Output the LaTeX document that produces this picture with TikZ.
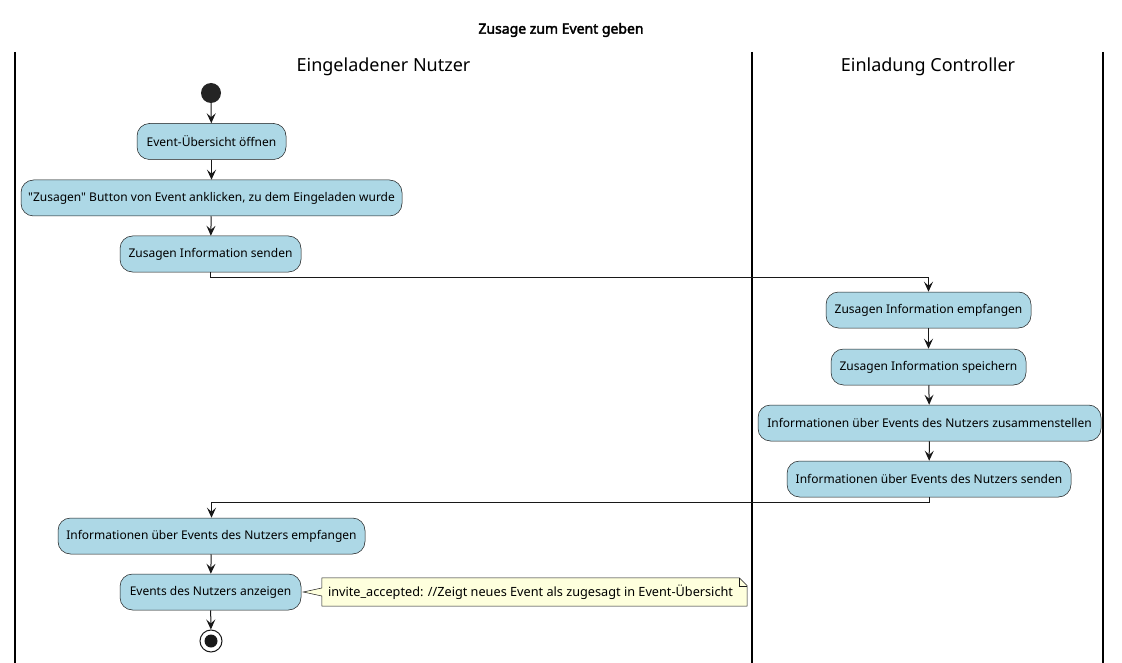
\documentclass[tikz,border=0pt]{standalone}
\usepackage{fontspec}
\setmainfont{Noto Sans}[Ligatures=TeXOff, BoldFont={Noto Sans}, BoldFeatures={FakeBold=2.5}]
\usetikzlibrary{arrows.meta}
\definecolor{actblue}{HTML}{ADD8E6}
\definecolor{notefill}{HTML}{FEFFDD}
\definecolor{dark}{HTML}{181818}
\tikzset{
  act/.style={draw=dark, line width=0.5pt, fill=actblue, rounded corners=12.5pt,
    minimum height=36pt, inner sep=0pt, font=\fontsize{12}{14}\selectfont},
  arr/.style={draw=dark, line width=1pt, -{Stealth[length=10pt,width=9pt,inset=4pt]}},
  lane/.style={line width=1.5pt, black},
  lanehead/.style={font=\fontsize{18}{22}\selectfont},
  notebody/.style={draw=dark, line width=0.5pt, fill=notefill}
}
\begin{document}
\begin{tikzpicture}[x=1pt,y=-1pt]
\path[use as bounding box, fill=white] (0,0) rectangle (1122,663);
% title
\node[font=\fontsize{14}{16}\selectfont\bfseries] (title) at (561,30) {Zusage zum Event geben};
% swimlanes
\draw[lane] (15,52) -- (15,663);
\draw[lane] (752,52) -- (752,663);
\draw[lane] (1103,52) -- (1103,663);
\node[lanehead] (h1) at (383.5,67) {Eingeladener Nutzer};
\node[lanehead] (h2) at (928,67) {Einladung Controller};
% start
\node[circle, fill=dark!95, minimum size=20pt, inner sep=0pt] (start) at (211,93) {};
% activities
\node[act, minimum width=149pt] (b1) at (211.5,141.5) {Event-Übersicht öffnen};
\node[act, minimum width=381pt] (b2) at (211.5,198) {"Zusagen" Button von Event anklicken, zu dem Eingeladen wurde};
\node[act, minimum width=181pt] (b3) at (210.5,254) {Zusagen Information senden};
\node[act, minimum width=205pt] (b4) at (928.5,310) {Zusagen Information empfangen};
\node[act, minimum width=195pt] (b5) at (928.5,367) {Zusagen Information speichern};
\node[act, minimum width=343pt] (b6) at (929.5,423) {Informationen über Events des Nutzers zusammenstellen};
\node[act, minimum width=284pt] (b7) at (929,479) {Informationen über Events des Nutzers senden};
\node[act, minimum width=307pt] (b8) at (211.5,536) {Informationen über Events des Nutzers empfangen};
\node[act, minimum width=181pt] (b9) at (210.5,592) {Events des Nutzers anzeigen};
% end
\node[circle, draw=dark, line width=1pt, fill=white, minimum size=22pt, inner sep=0pt] (end) at (211,641) {};
\fill[dark] (end.center) circle (6.5pt);
% note
\node[minimum width=425pt, minimum height=28pt, inner sep=0pt] (note) at (534.5,592) {};
\draw[notebody] (note.north west) -- ([xshift=-8pt]note.north east) -- ([yshift=-8pt]note.north east)
  -- (note.south east) -- (note.south west) -- ([yshift=-4pt]note.west) -- ([xshift=2pt]b9.east) -- ([yshift=4pt]note.west) -- cycle;
\draw[dark, line width=0.5pt] ([xshift=-8pt]note.north east) -- ([xshift=-8pt,yshift=-8pt]note.north east) -- ([yshift=-8pt]note.north east);
\node[font=\fontsize{12.7}{15}\selectfont, anchor=west, inner sep=0pt] (notetext) at ([xshift=6pt]note.west) {invite\_accepted: //Zeigt neues Event als zugesagt in Event-Übersicht};
% connectors
\draw[arr] (start) -- (b1);
\draw[arr] (b1) -- (b2);
\draw[arr] (b2) -- (b3);
\draw[arr] (b3.south) -- ++(0,5) -| (b4.north);
\draw[arr] (b4) -- (b5);
\draw[arr] (b5) -- (b6);
\draw[arr] (b6) -- (b7);
\draw[arr] (b7.south) -- ++(0,5) -| (b8.north);
\draw[arr] (b8) -- (b9);
\draw[arr] (b9) -- (end);
\end{tikzpicture}
\end{document}
